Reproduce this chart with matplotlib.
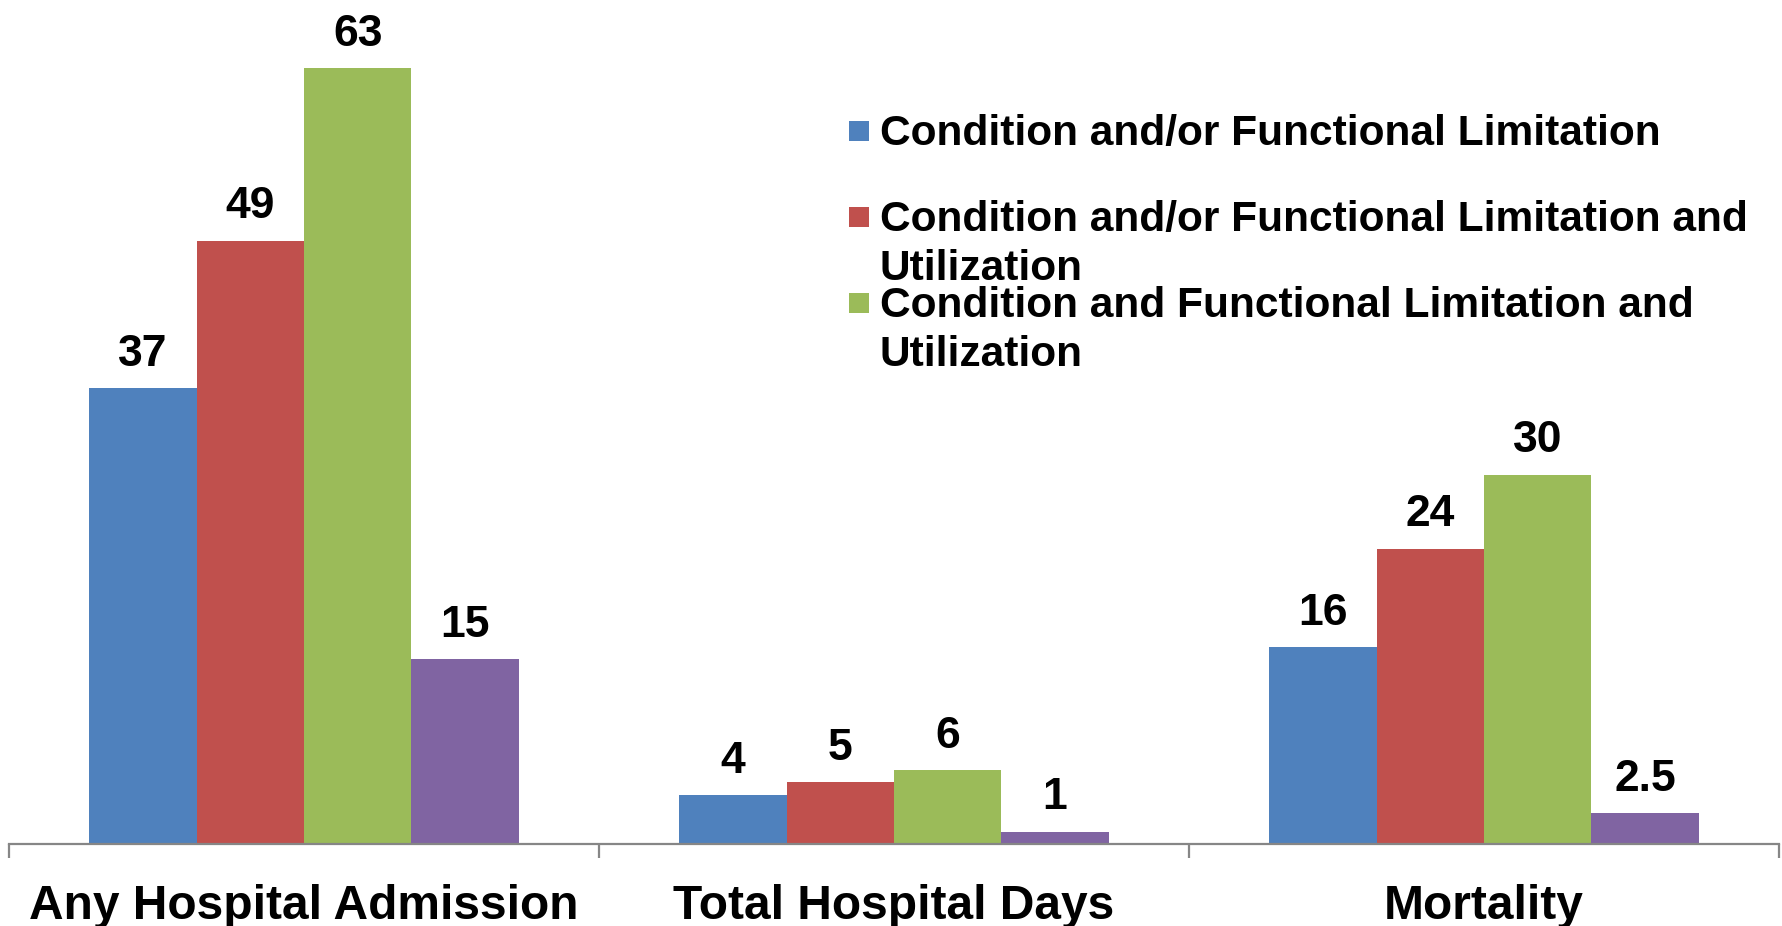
import matplotlib
matplotlib.use("Agg")
import matplotlib.pyplot as plt
from matplotlib.patches import Rectangle
import numpy as np

# Outcome categories and the four comparison series
categories = ["Any Hospital Admission", "Total Hospital Days", "Mortality"]
series_names = [
    "Condition and/or Functional Limitation",
    "Condition and/or Functional Limitation and\nUtilization",
    "Condition and Functional Limitation and\nUtilization",
    None,  # fourth series is not listed in the key
]
cond_or_func = [37, 4, 16]
cond_or_func_util = [49, 5, 24]
cond_and_func_util = [63, 6, 30]
fourth_series = [15, 1, 2.5]
series_values = [cond_or_func, cond_or_func_util, cond_and_func_util, fourth_series]
colors = ["#4F81BD", "#C0504D", "#9BBB59", "#8064A2"]

W, H = 1782, 926
plt.rcParams["font.family"] = ["Liberation Sans", "DejaVu Sans"]
plt.rcParams["font.weight"] = "bold"

fig = plt.figure(figsize=(W / 100, H / 100), dpi=100)
ax = fig.add_axes([9 / W, 82 / H, 1770 / W, 844 / H])

x = np.arange(len(categories))
bar_w = 1 / (4 + 1.5)
offsets = (np.arange(4) - 1.5) * bar_w

for vals, off, col in zip(series_values, offsets, colors):
    bars = ax.bar(x + off, vals, width=bar_w, color=col, edgecolor="none", zorder=2)
    for b, v in zip(bars, vals):
        ax.annotate(f"{v:g}", xy=(b.get_x() + b.get_width() / 2, v),
                    xytext=(0, 16), textcoords="offset points",
                    ha="center", va="baseline", fontsize=32, fontweight="bold",
                    color="black")

ax.set_xlim(-0.5, len(categories) - 0.5)
ax.set_ylim(0, 68.55)

for s in ["left", "top", "right"]:
    ax.spines[s].set_visible(False)
ax.spines["bottom"].set_color("#868686")
ax.spines["bottom"].set_linewidth(1.6)
ax.set_yticks([])

ax.set_xticks(x)
ax.set_xticklabels([])
ax.tick_params(axis="x", which="major", length=0)
ax.set_xticks(np.arange(len(categories) + 1) - 0.5, minor=True)
ax.tick_params(axis="x", which="minor", length=10, width=1.6, color="#868686",
               direction="out")

for xi, name in zip(x, categories):
    ax.annotate(name, xy=(xi, 0), xycoords=("data", "axes fraction"),
                xytext=(0, -54), textcoords="offset points",
                ha="center", va="baseline", fontsize=34.5, fontweight="bold",
                color="black", annotation_clip=False)

# Key: colour squares with labels, upper right
def fx(px):
    return px / W

def fy(py):
    return 1 - py / H

key_rows = [
    (colors[0], 131, [145]),
    (colors[1], 217, [231, 280]),
    (colors[2], 303, [317, 366]),
]
for (col, cy, baselines), label in zip(key_rows, series_names[:3]):
    sq = 20
    fig.patches.append(Rectangle((fx(849), fy(cy + sq / 2)), sq / W, sq / H,
                                 transform=fig.transFigure, color=col,
                                 linewidth=0))
    for line, base in zip(label.split("\n"), baselines):
        fig.text(fx(880), fy(base), line, ha="left", va="baseline",
                 fontsize=30.6, fontweight="bold", color="black")

fig.savefig("out.png", dpi=100, facecolor="white")
